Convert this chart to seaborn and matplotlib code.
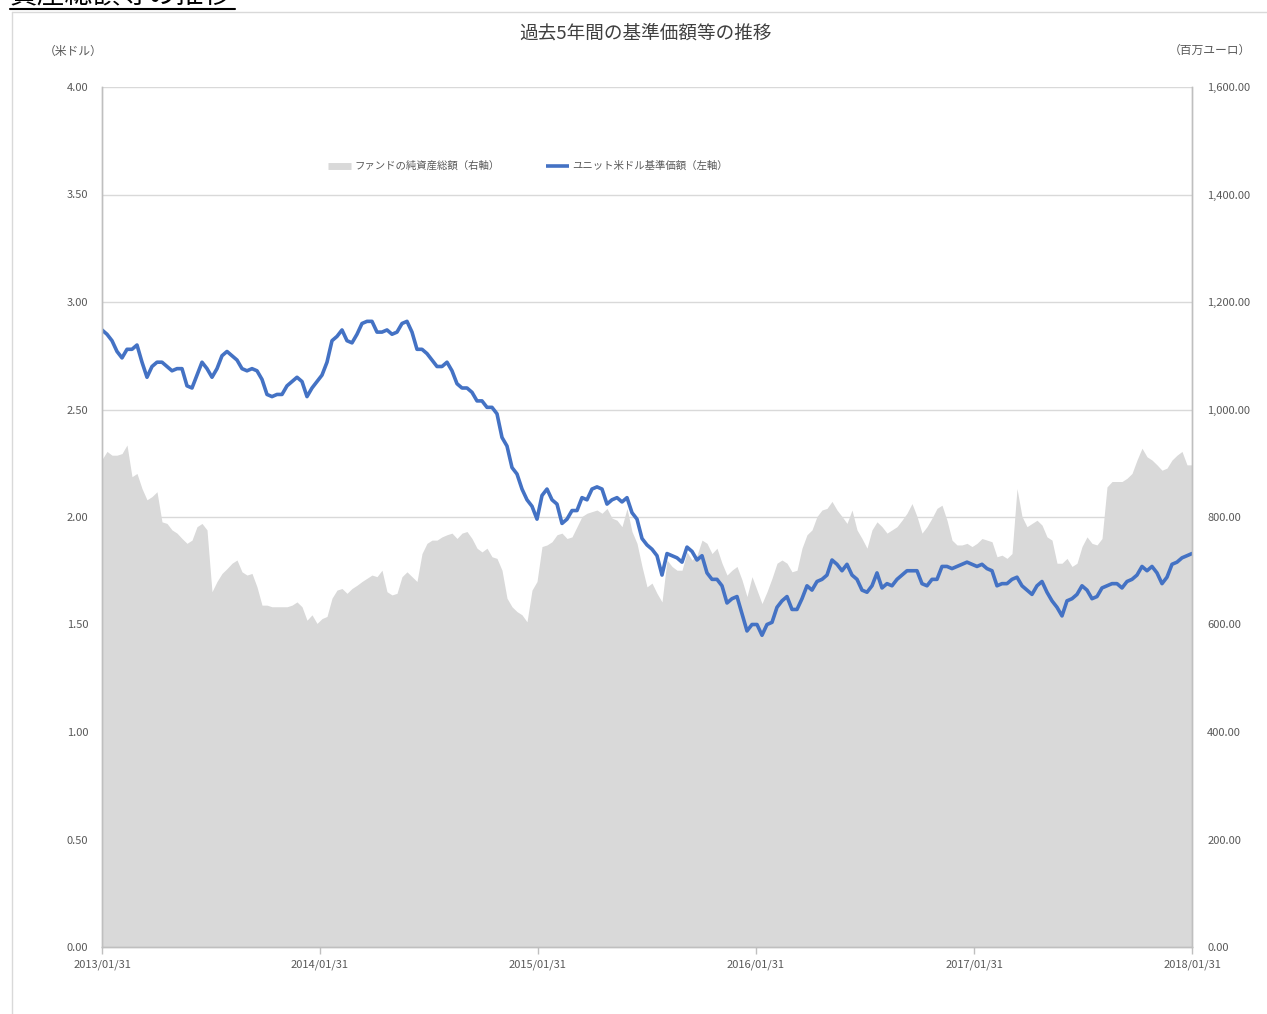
import numpy as np
import pandas as pd
import matplotlib
matplotlib.use("Agg")
import matplotlib.pyplot as plt
import matplotlib.dates as mdates
from matplotlib.lines import Line2D
from matplotlib.ticker import FuncFormatter
import seaborn as sns

# データ（グラフから読み取った値、約8日間隔）
start_date = "2013-01-31"
end_date = "2018-01-31"

nav_usd = [
    2.87, 2.85, 2.82, 2.77, 2.74, 2.78, 2.78, 2.80, 2.72, 2.65,
    2.70, 2.72, 2.72, 2.70, 2.68, 2.69, 2.69, 2.61, 2.60, 2.66,
    2.72, 2.69, 2.65, 2.69, 2.75, 2.77, 2.75, 2.73, 2.69, 2.68,
    2.69, 2.68, 2.64, 2.57, 2.56, 2.57, 2.57, 2.61, 2.63, 2.65,
    2.63, 2.56, 2.60, 2.63, 2.66, 2.72, 2.82, 2.84, 2.87, 2.82,
    2.81, 2.85, 2.90, 2.91, 2.91, 2.86, 2.86, 2.87, 2.85, 2.86,
    2.90, 2.91, 2.86, 2.78, 2.78, 2.76, 2.73, 2.70, 2.70, 2.72,
    2.68, 2.62, 2.60, 2.60, 2.58, 2.54, 2.54, 2.51, 2.51, 2.48,
    2.37, 2.33, 2.23, 2.20, 2.13, 2.08, 2.05, 1.99, 2.10, 2.13,
    2.08, 2.06, 1.97, 1.99, 2.03, 2.03, 2.09, 2.08, 2.13, 2.14,
    2.13, 2.06, 2.08, 2.09, 2.07, 2.09, 2.02, 1.99, 1.90, 1.87,
    1.85, 1.82, 1.73, 1.83, 1.82, 1.81, 1.79, 1.86, 1.84, 1.80,
    1.82, 1.74, 1.71, 1.71, 1.68, 1.60, 1.62, 1.63, 1.55, 1.47,
    1.50, 1.50, 1.45, 1.50, 1.51, 1.58, 1.61, 1.63, 1.57, 1.57,
    1.62, 1.68, 1.66, 1.70, 1.71, 1.73, 1.80, 1.78, 1.75, 1.78,
    1.73, 1.71, 1.66, 1.65, 1.68, 1.74, 1.67, 1.69, 1.68, 1.71,
    1.73, 1.75, 1.75, 1.75, 1.69, 1.68, 1.71, 1.71, 1.77, 1.77,
    1.76, 1.77, 1.78, 1.79, 1.78, 1.77, 1.78, 1.76, 1.75, 1.68,
    1.69, 1.69, 1.71, 1.72, 1.68, 1.66, 1.64, 1.68, 1.70, 1.65,
    1.61, 1.58, 1.54, 1.61, 1.62, 1.64, 1.68, 1.66, 1.62, 1.63,
    1.67, 1.68, 1.69, 1.69, 1.67, 1.70, 1.71, 1.73, 1.77, 1.75,
    1.77, 1.74, 1.69, 1.72, 1.78, 1.79, 1.81, 1.82, 1.83,
]

net_assets_eur = [
    907, 922, 915, 915, 918, 934, 875, 881, 853, 832,
    838, 847, 791, 788, 776, 770, 760, 751, 757, 782,
    788, 776, 661, 680, 695, 704, 714, 720, 698, 692,
    695, 670, 636, 636, 633, 633, 633, 633, 636, 642,
    633, 608, 618, 602, 611, 615, 649, 664, 667, 658,
    667, 673, 680, 686, 692, 689, 701, 661, 655, 658,
    689, 698, 689, 680, 732, 751, 757, 757, 763, 767,
    770, 760, 770, 773, 760, 742, 735, 742, 726, 723,
    701, 649, 633, 624, 618, 605, 664, 680, 745, 748,
    754, 767, 770, 760, 763, 782, 801, 807, 810, 813,
    807, 816, 798, 794, 782, 816, 773, 751, 708, 670,
    677, 658, 642, 720, 708, 701, 701, 735, 720, 729,
    757, 751, 732, 742, 714, 692, 701, 708, 683, 652,
    689, 664, 639, 661, 686, 714, 720, 714, 698, 701,
    742, 767, 776, 801, 813, 816, 829, 813, 801, 788,
    813, 776, 760, 742, 776, 791, 782, 770, 776, 782,
    794, 807, 825, 801, 770, 782, 798, 816, 822, 794,
    757, 748, 748, 751, 745, 751, 760, 757, 754, 726,
    729, 723, 732, 853, 801, 782, 788, 794, 785, 763,
    757, 714, 714, 723, 708, 714, 745, 763, 751, 748,
    760, 856, 866, 866, 866, 872, 881, 906, 928, 912,
    906, 897, 887, 891, 906, 915, 922, 897, 897,
]

dates = pd.date_range(start_date, end_date, periods=len(nav_usd))
df = pd.DataFrame({"date": dates, "nav": nav_usd, "assets": net_assets_eur})

tick_dates = pd.to_datetime(["2013-01-31", "2014-01-31", "2015-01-31",
                             "2016-01-31", "2017-01-31", "2018-01-31"])
left_ticks = [0.0, 0.5, 1.0, 1.5, 2.0, 2.5, 3.0, 3.5, 4.0]
right_ticks = [0, 200, 400, 600, 800, 1000, 1200, 1400, 1600]

blue = "#4472C4"
area_grey = "#D9D9D9"
text_grey = "#595959"
grid_grey = "#D9D9D9"

sns.set_theme(style="white")
plt.rcParams["font.family"] = ["Noto Sans CJK JP", "DejaVu Sans"]

W, H = 1267, 1014
fig = plt.figure(figsize=(W / 100, H / 100), dpi=100)

# 外枠と上端で切れた見出し
fig.add_artist(Line2D([12 / W, 1.0], [1 - 12 / H] * 2, color="#D9D9D9", lw=1))
fig.add_artist(Line2D([12 / W] * 2, [0.0, 1 - 12 / H], color="#D9D9D9", lw=1))
fig.text(10 / W, 1 - 3 / H, "資産総額等の推移", fontsize=20, color="black", va="baseline")
fig.add_artist(Line2D([10 / W, 235 / W], [1 - 8.5 / H] * 2, color="black", lw=1.5))

# 右軸（純資産総額）を背面、左軸（基準価額）を前面に
ax_r = fig.add_axes([102 / W, 1 - 947 / H, 1090 / W, 860 / H])
ax_l = ax_r.twinx()

ax_r.fill_between(df["date"], 0, df["assets"], color=area_grey, lw=0, zorder=2)
ax_r.set_ylim(0, 1600)
ax_r.set_yticks(right_ticks)
ax_r.yaxis.grid(True, color=grid_grey, lw=1)
ax_r.set_axisbelow(True)
ax_r.yaxis.tick_right()
ax_r.yaxis.set_major_formatter(FuncFormatter(lambda v, p: f"{v:,.2f}"))

sns.lineplot(data=df, x="date", y="nav", ax=ax_l, color=blue, lw=2.6)
ax_l.set_ylim(0, 4)
ax_l.set_yticks(left_ticks)
ax_l.yaxis.tick_left()
ax_l.yaxis.set_major_formatter(FuncFormatter(lambda v, p: f"{v:.2f}"))

for ax in (ax_r, ax_l):
    ax.set_xlim(tick_dates[0], tick_dates[-1])
    ax.set_xlabel("")
    ax.set_ylabel("")
    for side in ("left", "right", "bottom"):
        ax.spines[side].set_color("#BFBFBF")
        ax.spines[side].set_linewidth(1)
    ax.spines["top"].set_visible(False)

ax_r.set_xticks(tick_dates)
ax_r.xaxis.set_major_formatter(mdates.DateFormatter("%Y/%m/%d"))
ax_r.tick_params(axis="x", which="both", bottom=True, length=5, width=1,
                 color="#BFBFBF", labelsize=8, labelcolor=text_grey, pad=4)
ax_r.tick_params(axis="y", length=0, labelsize=8, labelcolor=text_grey, pad=11)
ax_l.tick_params(axis="y", length=0, labelsize=8, labelcolor=text_grey, pad=10)
ax_l.tick_params(axis="x", length=0, labelbottom=False)

# 凡例
handles = [Line2D([], [], color=area_grey, lw=5, solid_capstyle="butt"),
           Line2D([], [], color=blue, lw=2.6, solid_capstyle="butt")]
labels = ["ファンドの純資産総額（右軸）", "ユニット米ドル基準価額（左軸）"]
ax_l.legend(handles, labels, loc="center", bbox_to_anchor=(0.391, 0.908),
            ncol=2, frameon=False, fontsize=7.5, handlelength=2.2,
            handletextpad=0.3, columnspacing=4.5, labelcolor=text_grey)

# タイトルと単位
fig.text(646 / W, 1 - 34 / H, "過去5年間の基準価額等の推移", ha="center", va="center",
         fontsize=13.4, color="#404040")
fig.text(73 / W, 1 - 51 / H, "（米ドル）", ha="center", va="center",
         fontsize=8.5, color=text_grey)
fig.text(1210 / W, 1 - 50 / H, "（百万ユーロ）", ha="center", va="center",
         fontsize=8.5, color=text_grey)

fig.savefig("out.png", dpi=100)
